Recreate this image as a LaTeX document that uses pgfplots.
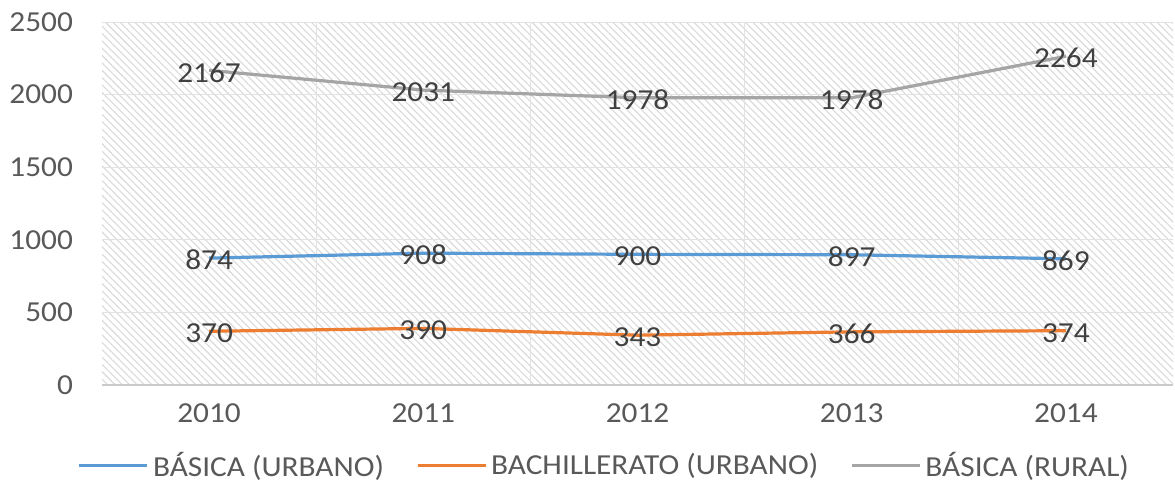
\documentclass[border=0pt]{standalone}
\usepackage{pgfplots}
\pgfplotsset{compat=1.18}
\usepackage{fontspec}
\setmainfont{Carlito}[FakeStretch=1.08]
\usetikzlibrary{patterns.meta}

\definecolor{serieblue}{HTML}{5B9BD5}
\definecolor{serieorange}{HTML}{ED7D31}
\definecolor{seriegray}{HTML}{A5A5A5}
\definecolor{ticktext}{HTML}{595959}
\definecolor{labeltext}{HTML}{404040}
\definecolor{hatch}{HTML}{D9D9D9}
\definecolor{gridgray}{HTML}{E2E2E2}

\begin{document}
\begin{tikzpicture}
\path[use as bounding box] (0,0) rectangle (587.5pt,241.5pt);
\begin{axis}[
  at={(51pt,49pt)}, anchor=south west,
  scale only axis,
  width=535.5pt, height=181.5pt,
  xmin=-0.5, xmax=4.5,
  ymin=0, ymax=2500,
  xtick={0,1,2,3,4},
  xticklabels={2010,2011,2012,2013,2014},
  ytick={0,500,1000,1500,2000,2500},
  minor xtick={0.5,1.5,2.5,3.5},
  major tick length=0pt, minor tick length=0pt,
  ymajorgrids, xminorgrids,
  major grid style={gridgray, line width=0.5pt},
  minor grid style={gridgray, line width=0.5pt},
  axis background/.style={pattern={Lines[angle=-45,distance=2.6pt,line width=0.55pt]}, pattern color=hatch},
  axis x line*=bottom,
  axis y line*=left,
  x axis line style={draw=gridgray!90!black, line width=0.6pt, -},
  y axis line style={draw=none},
  /pgf/number format/assume math mode=true,
  yticklabel style={font=\fontsize{14.5}{16}\selectfont, text=ticktext, xshift=-11pt},
  xticklabel style={font=\fontsize{14.5}{16}\selectfont, text=ticktext, yshift=-6pt},
  scaled y ticks=false,
  /pgf/number format/1000 sep={},
  nodes near coords,
  every node near coord/.append style={anchor=center, yshift=-1pt,
    font=\fontsize{14.5}{16}\selectfont, text=labeltext},
  legend columns=3,
  legend style={at={(0.47,-0.222)}, anchor=center, draw=none, fill=none,
    font=\fontsize{14.5}{16}\selectfont, text=ticktext,
    /tikz/every even column/.append style={column sep=14pt}},
  legend cell align=left,
  legend image code/.code={\draw[#1] (0pt,0pt) -- (34pt,0pt);},
  clip=false,
]
\addplot[serieblue, line width=1.6pt] coordinates {
  (0,874) (1,908) (2,900) (3,897) (4,869)
};
\addlegendentry{BÁSICA (URBANO)}
\addplot[serieorange, line width=1.6pt] coordinates {
  (0,370) (1,390) (2,343) (3,366) (4,374)
};
\addlegendentry{BACHILLERATO (URBANO)}
\addplot[seriegray, line width=1.6pt] coordinates {
  (0,2167) (1,2031) (2,1978) (3,1978) (4,2264)
};
\addlegendentry{BÁSICA (RURAL)}
\end{axis}
\end{tikzpicture}
\end{document}
